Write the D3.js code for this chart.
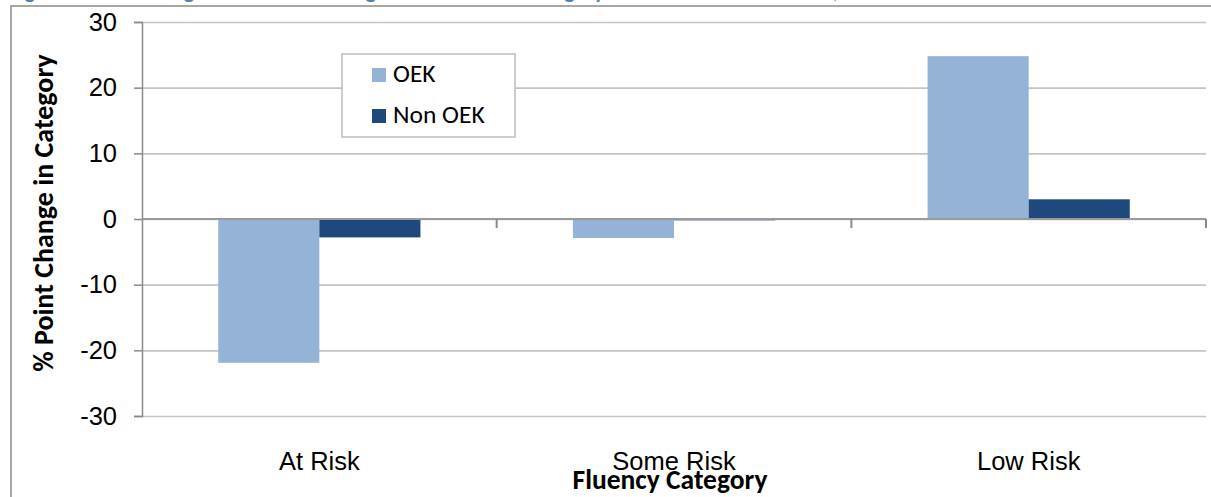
<!DOCTYPE html>
<html>
<head>
<meta charset="utf-8">
<script src="https://cdn.jsdelivr.net/npm/d3@7"></script>
<style>
  body { margin: 0; background: #fff; }
  svg { display: block; font-family: Carlito, Calibri, "Open Sans", sans-serif; }
  .grid line { stroke: #c4c4c4; stroke-width: 1.6; }
  .tick text { fill: #000; }
</style>
</head>
<body>
<div id="chart"></div>
<script>
// data
let categorias = ["At Risk", "Some Risk", "Low Risk"];
let series = ["OEK", "Non OEK"];
let oek = [-21.9, -2.9, 24.8];
let nonOek = [-2.8, -0.2, 3.0];
let yTicks = [-30, -20, -10, 0, 10, 20, 30];
let colores = ["#95b3d7", "#1f497d"];

let datos = categorias.map((c, i) => ({ cat: c, valores: [oek[i], nonOek[i]] }));

var svgWidth = 1211;
var svgHeight = 497;
var margin = { top: 22, right: 5, bottom: 81, left: 142 };
var chartWidth = svgWidth - margin.left - margin.right;
var chartHeight = svgHeight - margin.top - margin.bottom;

var svg = d3.select("#chart")
  .append("svg")
  .attr("width", svgWidth)
  .attr("height", svgHeight);

// caption cut off at the top of the picture
svg.append("text")
  .attr("x", 9)
  .attr("y", -2)
  .attr("fill", "#4f81bd")
  .attr("font-size", 22)
  .attr("font-weight", "bold")
  .text("Figure 11: Percentage of Students Change in DIBELS Risk Category Between Fall and Winter, OEK and Non OEK Students");

// outer frame (right and bottom sides fall outside the window)
svg.append("path")
  .attr("d", "M11,500V6H1215")
  .attr("fill", "none")
  .attr("stroke", "#8a8a8a")
  .attr("stroke-width", 1.5);

var chartGroup = svg.append("g")
  .attr("transform", `translate(${margin.left}, ${margin.top})`);

var x0 = d3.scaleBand()
  .domain(categorias)
  .range([0, chartWidth]);

var x1 = d3.scaleBand()
  .domain(series)
  .range([0, x0.bandwidth()])
  .paddingOuter(0.754);

var y = d3.scaleLinear()
  .domain([-30, 30])
  .range([chartHeight, 0]);

// horizontal gridlines
chartGroup.append("g")
  .classed("grid", true)
  .call(d3.axisLeft(y).tickValues(yTicks).tickSize(-chartWidth).tickFormat(""))
  .call(g => g.select(".domain").remove());

// bars
var grupos = chartGroup.selectAll(".cat")
  .data(datos)
  .enter()
  .append("g")
  .attr("transform", d => `translate(${x0(d.cat)}, 0)`);

grupos.selectAll("rect")
  .data(d => d.valores.map((v, i) => ({ serie: series[i], valor: v, i: i })))
  .enter()
  .append("rect")
  .attr("x", d => x1(d.serie))
  .attr("width", x1.bandwidth())
  .attr("y", d => y(Math.max(0, d.valor)))
  .attr("height", d => Math.abs(y(d.valor) - y(0)))
  .attr("fill", d => colores[d.i]);

// zero line with category separator ticks
var zeroAxis = chartGroup.append("g")
  .attr("transform", `translate(0, ${y(0)})`);
zeroAxis.append("line")
  .attr("x1", 0)
  .attr("x2", chartWidth)
  .attr("stroke", "#9a9a9a")
  .attr("stroke-width", 2);
var separadores = categorias.map(c => x0(c)).concat([chartWidth]);
zeroAxis.selectAll(".sep")
  .data(separadores.slice(1))
  .enter()
  .append("line")
  .attr("x1", d => d)
  .attr("x2", d => d)
  .attr("y1", 0)
  .attr("y2", 9)
  .attr("stroke", "#8a8a8a")
  .attr("stroke-width", 2);

// left axis (plain hyphen for negatives, like the original)
var leftAxis = d3.axisLeft(y).tickValues(yTicks).tickSize(8).tickPadding(17)
  .tickFormat(d => String(d));
chartGroup.append("g")
  .call(leftAxis)
  .call(g => g.select(".domain").attr("stroke", "#8a8a8a").attr("stroke-width", 1.5))
  .call(g => g.selectAll(".tick line").attr("stroke", "#8a8a8a").attr("stroke-width", 1.5))
  .call(g => g.selectAll(".tick text").attr("font-size", 25.5).attr("font-family", null));

// category labels along the bottom
var bottomAxis = d3.axisBottom(x0).tickSize(0).tickPadding(36);
chartGroup.append("g")
  .attr("transform", `translate(0, ${chartHeight})`)
  .call(bottomAxis)
  .call(g => g.select(".domain").remove())
  .call(g => g.selectAll(".tick text").attr("font-size", 25.5).attr("font-family", null));

// axis titles
svg.append("text")
  .attr("x", margin.left + chartWidth / 2 - 4)
  .attr("y", 489)
  .attr("text-anchor", "middle")
  .attr("font-size", 27.5)
  .attr("font-weight", "bold")
  .text("Fluency Category");

svg.append("text")
  .attr("transform", "translate(53, 213) rotate(-90)")
  .attr("text-anchor", "middle")
  .attr("font-size", 28)
  .attr("font-weight", "bold")
  .text("% Point Change in Category");

// legend
var legend = svg.append("g").attr("transform", "translate(342, 54)");
legend.append("rect")
  .attr("width", 173)
  .attr("height", 83)
  .attr("fill", "#fff")
  .attr("stroke", "#bcbcbc")
  .attr("stroke-width", 1.5);
var items = legend.selectAll(".item")
  .data(series)
  .enter()
  .append("g")
  .attr("transform", (d, i) => `translate(30, ${14 + i * 41})`);
items.append("rect")
  .attr("width", 14)
  .attr("height", 14)
  .attr("fill", (d, i) => colores[i]);
items.append("text")
  .attr("x", 21)
  .attr("y", 14)
  .attr("font-size", 25.5)
  .text(d => d);
</script>
</body>
</html>
